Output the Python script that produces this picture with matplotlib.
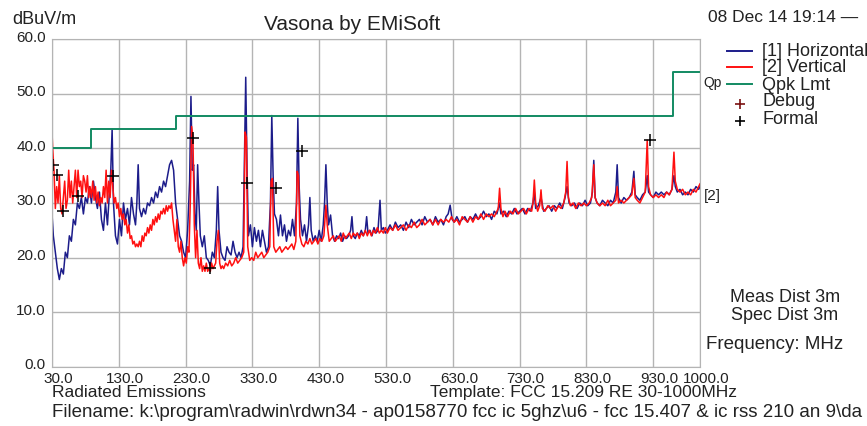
import matplotlib
matplotlib.use("Agg")
import matplotlib.pyplot as plt
import matplotlib.transforms as mtransforms
from matplotlib.lines import Line2D

plt.rcParams['font.family'] = ['Liberation Sans', 'DejaVu Sans']

# Horizontal scan [1] (MHz, dBuV/m)
h_freq = [30, 32, 35, 38, 41, 44, 47, 50, 53, 56, 59, 62, 65, 68, 71, 74, 77, 80, 83, 86,
          89, 92, 95, 98, 101, 104, 107, 110, 113, 116, 118, 120, 122, 125, 128, 131, 134, 137, 140, 143,
          146, 149, 152, 155, 157, 159, 161, 164, 167, 170, 173, 176, 179, 182, 185, 188, 191, 194, 197, 200,
          203, 206, 209, 212, 215, 218, 221, 224, 227, 230, 233, 236, 238, 240, 242, 244, 246, 248, 250, 252,
          255, 258, 261, 264, 267, 270, 273, 276, 278, 280, 283, 286, 289, 292, 295, 298, 301, 304, 307, 310,
          313, 316, 318, 320, 322, 324, 327, 330, 333, 336, 339, 342, 345, 348, 351, 354, 357, 359, 361, 363,
          366, 369, 372, 375, 378, 381, 384, 387, 390, 393, 396, 398, 400, 402, 405, 408, 411, 414, 416, 418,
          421, 424, 427, 430, 433, 436, 438, 440, 442, 444, 447, 450, 453, 456, 459, 462, 465, 468, 471, 474,
          477, 479, 481, 484, 487, 490, 493, 496, 499, 501, 503, 506, 509, 512, 515, 518, 521, 523, 526, 529,
          532, 536, 540, 544, 548, 552, 556, 560, 564, 568, 572, 576, 580, 584, 588, 592, 596, 600, 604, 608,
          612, 616, 620, 623, 626, 629, 632, 636, 640, 644, 648, 652, 656, 660, 664, 668, 672, 676, 680, 684,
          688, 692, 696, 700, 702, 706, 710, 714, 718, 722, 726, 730, 734, 738, 742, 746, 750, 752, 754, 758,
          762, 766, 770, 774, 778, 782, 786, 790, 794, 798, 801, 804, 808, 812, 816, 820, 824, 828, 832, 836,
          839, 841, 843, 846, 850, 854, 858, 862, 866, 870, 874, 876, 878, 882, 886, 890, 894, 898, 901, 903,
          906, 910, 914, 918, 921, 923, 926, 930, 934, 938, 942, 946, 950, 954, 958, 961, 963, 966, 970, 974,
          978, 982, 986, 990, 994, 998, 1000]
h_level = [28, 24, 21, 18, 16, 18, 17, 21, 20, 24, 23, 27, 26, 30, 29, 31, 28, 31, 30, 33,
           30, 34, 31, 29, 32, 27, 25, 30, 26, 32, 36, 43.5, 30, 24, 22.5, 27, 24, 30, 27, 29,
           26, 31, 28, 26, 30, 37, 29, 27.5, 29, 28, 30, 29.5, 31, 30, 32, 31, 33, 32, 34, 33,
           35, 37, 37.8, 36, 30, 27, 24, 23, 21, 20, 25, 34, 49.5, 36, 37, 28, 25, 37, 30, 24,
           22, 24, 20, 19.5, 18.5, 21, 20, 25, 33, 25, 21, 20, 19.5, 22, 21, 20.5, 23, 21, 20, 21,
           20, 22, 37, 53, 36, 24, 26, 22, 25.5, 23, 25, 22, 25, 23, 21, 22, 30, 46, 35, 28,
           27, 24, 27.8, 24, 26, 23, 25, 24, 27, 24, 30, 45.5, 33, 27, 24, 26, 23, 26, 31, 25,
           23, 24, 23, 25, 23, 26, 30, 37, 30, 26, 27.8, 24, 23, 24, 23.5, 24.5, 23, 24, 23.5, 24,
           25, 27.5, 24, 23.5, 24.5, 24, 25, 24, 25, 27.5, 24.5, 25, 24, 25.5, 24.5, 25, 30.5, 25, 25.5, 24.5,
           25, 26, 25, 26.5, 25.5, 26, 25, 26.5, 25.5, 27, 26, 26.5, 27, 26, 27.5, 26.5, 27, 26, 27.5, 26.5,
           27, 26, 27.5, 28, 29.6, 27, 26.5, 27.5, 26.5, 27, 27.5, 26.5, 27.5, 27, 28, 27, 27.5, 28.5, 27.5, 28,
           27, 28.5, 28, 30, 28, 28.5, 27.5, 28.5, 28, 29, 28, 28.5, 29, 28, 29, 28.5, 30, 32, 29, 29.5,
           31, 28.5, 29, 29.5, 28.5, 29.5, 29, 30, 29, 31, 33, 30, 29.5, 30, 29, 30, 29.5, 30.5, 29.5, 30,
           32, 37.8, 31, 30, 29.5, 30.5, 30, 29.5, 30.5, 30, 32, 37, 31, 30, 31, 30.5, 31, 32, 35.8, 31.5,
           31, 30.5, 31.5, 32, 35, 32, 31.5, 31, 32, 31.5, 32, 31.5, 32, 31.5, 32.5, 35, 33, 32, 32.5, 31.5,
           32, 31.5, 32.5, 32, 33, 32.5, 33]

# Vertical scan [2]
v_freq = [30, 31, 33, 35, 37, 39, 41, 43, 45, 47, 49, 51, 53, 55, 57, 59, 61, 63, 65, 67,
          69, 71, 73, 75, 77, 79, 81, 83, 85, 87, 89, 91, 93, 95, 97, 99, 101, 103, 105, 107,
          109, 111, 113, 115, 117, 119, 121, 123, 125, 127, 129, 131, 133, 135, 137, 139, 141, 143, 145, 147,
          149, 151, 153, 155, 157, 159, 161, 163, 165, 167, 169, 171, 173, 175, 177, 179, 181, 183, 185, 187,
          189, 191, 193, 195, 197, 199, 201, 203, 205, 207, 209, 211, 213, 215, 217, 219, 221, 223, 225, 227,
          229, 231, 233, 235, 237, 239, 241, 243, 245, 247, 249, 251, 253, 255, 257, 259, 261, 263, 265, 267,
          269, 271, 273, 275, 277, 279, 281, 283, 285, 287, 290, 293, 296, 299, 302, 305, 308, 311, 314, 317,
          319, 321, 323, 326, 329, 332, 335, 338, 341, 344, 347, 350, 353, 356, 358, 360, 362, 365, 368, 371,
          374, 377, 380, 383, 386, 389, 392, 395, 397, 399, 401, 404, 407, 410, 413, 416, 419, 422, 425, 428,
          431, 434, 437, 440, 442, 445, 448, 451, 454, 457, 460, 463, 466, 469, 472, 475, 478, 481, 484, 487,
          490, 493, 496, 499, 502, 505, 508, 511, 514, 517, 520, 523, 526, 529, 532, 536, 540, 544, 548, 552,
          556, 560, 564, 568, 572, 576, 580, 584, 588, 592, 596, 600, 604, 608, 612, 616, 620, 624, 628, 632,
          636, 640, 644, 648, 652, 656, 660, 664, 668, 672, 676, 680, 684, 688, 692, 696, 698, 700, 702, 705,
          708, 712, 716, 720, 724, 728, 732, 736, 740, 744, 748, 750, 752, 754, 757, 760, 762, 764, 768, 772,
          776, 780, 784, 788, 792, 796, 799, 801, 803, 806, 810, 814, 818, 822, 826, 830, 834, 838, 841, 843,
          846, 850, 854, 858, 862, 866, 870, 874, 876, 878, 882, 886, 890, 894, 898, 901, 903, 906, 910, 914,
          918, 921, 923, 926, 930, 934, 938, 942, 946, 950, 954, 958, 961, 963, 966, 970, 974, 978, 982, 986,
          990, 994, 998, 1000]
v_level = [43, 40, 36, 29, 33, 30, 35, 29, 28, 31, 34, 29, 30.5, 36, 31, 34, 30, 33, 36, 31,
           36, 33, 34, 31, 35, 34, 32, 35, 31, 33, 31, 34, 30.5, 33, 30, 32, 29.5, 31, 30, 33,
           31, 36, 30, 34, 31, 36, 33, 30, 31, 29, 30, 27.5, 29, 27, 28, 26, 27, 24.5, 26, 23.5,
           24, 22.5, 23, 22, 22.5, 22, 23, 22, 24, 23, 24.5, 24, 25.5, 24.5, 26, 25, 27, 26, 27.5, 26.5,
           28, 27, 28.5, 28, 29, 28, 29.5, 28.5, 29.5, 29, 30, 27, 25, 23, 27, 22, 21, 23, 20, 18.5,
           20, 19, 22, 21, 30, 44, 42, 26, 20, 25, 19, 18, 20, 17.5, 18.5, 17.5, 19, 17.5, 18, 17.5,
           19, 18, 18.5, 19, 23, 25, 19, 18, 18.5, 18, 19, 18.5, 19.5, 18.5, 19, 20, 19, 19.5, 20, 21,
           43, 42, 22, 19.5, 20, 19.5, 21, 20, 20.5, 21, 20, 20.5, 21, 22, 34, 34.5, 22, 21, 21.5, 22,
           21, 21.5, 22, 21.5, 22, 22.5, 21.5, 23, 35.8, 35, 24, 22.5, 22, 23, 22.5, 23.5, 22.5, 23, 23.5, 22.5,
           23.5, 23, 24, 29.6, 26, 23, 23.5, 24, 23, 23.5, 24, 23, 24.5, 23.5, 24, 24.5, 23.5, 24.5, 24, 24.5,
           23.5, 24.5, 24, 25, 24, 25, 24, 25, 24.5, 25.5, 24.5, 25, 24.5, 25.5, 24.5, 25.5, 25, 26, 25, 25.5,
           26, 25, 26, 25.5, 26.5, 25.5, 26, 27, 26, 26.5, 27, 26, 27, 26, 27, 26.5, 27, 26.5, 27.5, 26.5,
           27, 26, 27.5, 27, 26.5, 27.5, 26.5, 27.5, 27, 28, 27, 28, 27.5, 28, 27.5, 28.5, 29, 32.7, 29, 27.5,
           28.5, 27.5, 28.5, 28, 29, 28, 28.5, 29, 28, 29, 28.5, 30, 34.2, 30, 28.5, 29.5, 32.4, 29, 28.5, 29.5,
           29, 29.5, 28.5, 29.5, 29, 30, 32, 37.6, 31, 29.5, 30, 29, 30, 29.5, 30, 29.5, 30, 31, 37, 31,
           30, 29.5, 30, 29.5, 30.5, 29.5, 30, 30.5, 33, 30, 30.5, 30, 30.5, 31, 31.5, 34.5, 31, 30.5, 30, 31,
           32, 41.5, 33, 31.5, 31, 31.5, 31, 31.5, 31, 32, 31.5, 32.5, 39.3, 34, 32.5, 32, 32.5, 31.5, 32, 31.5,
           32.5, 32, 33, 33.5]

# FCC 15.209 quasi-peak limit steps
lim_freq = [30, 88, 88, 216, 216, 960, 960, 1000]
lim_level = [40, 40, 43.5, 43.5, 46, 46, 54, 54]

# formal measurement markers
mark_freq = [31.5, 37, 46, 69, 121, 241, 266, 322, 365, 404, 925]
mark_level = [36.9, 35.2, 28.5, 31.3, 35, 41.8, 18.2, 33.6, 32.7, 39.6, 41.5]

x_ticks = [30, 130, 230, 330, 430, 530, 630, 730, 830, 930, 1000]
y_ticks = [0, 10, 20, 30, 40, 50, 60]

W, H = 867, 427
fig = plt.figure(figsize=(W / 100, H / 100), dpi=100)
ax = fig.add_axes([52 / W, 1 - 368 / H, (700 - 52) / W, (368 - 40) / H])

txt = '#222222'
grid_c = '#b4b4b4'

ax.plot(h_freq, h_level, color='#1c1c8a', lw=1.1)
ax.plot(v_freq, v_level, color='#ff1010', lw=1.1)
ax.plot(lim_freq, lim_level, color='#128a62', lw=1.4)
ax.plot(mark_freq, mark_level, '+', color='black', ms=8, mew=1.1)

ax.set_xlim(30, 1000)
ax.set_ylim(0, 60)
ax.set_xticks(x_ticks)
ax.set_xticklabels([f'{t:.1f}' for t in x_ticks])
ax.set_yticks(y_ticks)
ax.set_yticklabels([f'{t:.1f}' for t in y_ticks])
ax.grid(True, color=grid_c, lw=1.0)
ax.set_axisbelow(True)
for s in ax.spines.values():
    s.set_color(grid_c)
ax.tick_params(length=0, labelsize=11, colors=txt, pad=3)

dx = mtransforms.ScaledTranslation(6 / 100, 0, fig.dpi_scale_trans)
for lab in ax.get_xticklabels():
    lab.set_transform(lab.get_transform() + dx)
dy = mtransforms.ScaledTranslation(-2 / 100, 4 / 100, fig.dpi_scale_trans)
for lab in ax.get_yticklabels():
    lab.set_transform(lab.get_transform() + dy)


def ftext(x, y, s, **kw):
    kw.setdefault('color', txt)
    kw.setdefault('va', 'center')
    fig.text(x / W, 1 - y / H, s, **kw)


ftext(352, 24, 'Vasona by EMiSoft', fontsize=15, ha='center')
ftext(12, 19, 'dBuV/m', fontsize=13)
ftext(708, 17, '08 Dec 14 19:14 \u2014', fontsize=12.5)

# legend, drawn by hand
rows = [52, 68, 85, 102, 119]
leg_lines = [('#1c1c8a', '[1] Horizontal'), ('#ff1010', '[2] Vertical'), ('#128a62', 'Qpk Lmt')]
for (c, lab), y in zip(leg_lines, rows[:3]):
    fig.add_artist(Line2D([727 / W, 752 / W], [1 - y / H, 1 - y / H], color=c, lw=1.4))
    ftext(762, y, lab, fontsize=13)
for (c, lab), y in zip([('#7a1010', 'Debug'), ('black', 'Formal')], rows[3:]):
    fig.add_artist(Line2D([740 / W], [1 - (y + 3) / H], marker='+', color=c, ms=7, mew=1.2))
    ftext(762, y, lab, fontsize=13)
ftext(703, 83, 'Qp', fontsize=10)
ftext(704, 196, '[2]', fontsize=11)

ftext(785, 298, 'Meas Dist 3m', fontsize=13, ha='center')
ftext(785, 316, 'Spec Dist 3m', fontsize=13, ha='center')
ftext(706, 345, 'Frequency: MHz', fontsize=13.5)

ftext(52, 393, 'Radiated Emissions', fontsize=12.5)
ftext(430, 393, 'Template: FCC 15.209 RE 30-1000MHz', fontsize=12.5)
ftext(52, 413, 'Filename: k:\\program\\radwin\\rdwn34 - ap0158770 fcc ic 5ghz\\u6 - fcc 15.407 & ic rss 210 an 9\\da',
      fontsize=13.5)

fig.savefig('out.png', dpi=100)
